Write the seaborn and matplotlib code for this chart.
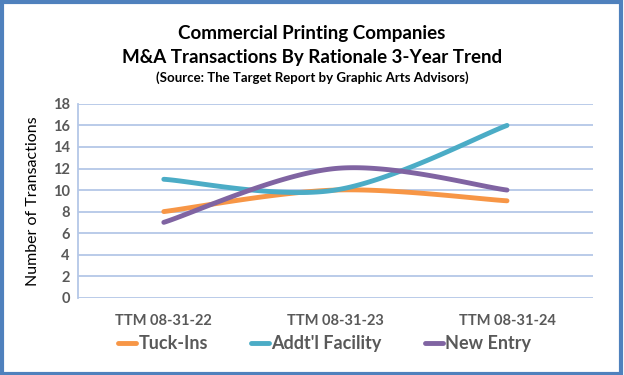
import numpy as np
import pandas as pd
import matplotlib
matplotlib.use("Agg")
import matplotlib.pyplot as plt
import seaborn as sns
from matplotlib.patches import Rectangle

categories = ["TTM 08-31-22", "TTM 08-31-23", "TTM 08-31-24"]
tuck_ins = [8, 10, 9]
addtl_facility = [11, 10, 16]
new_entry = [7, 12, 10]
series_names = ["Tuck-Ins", "Addt'l Facility", "New Entry"]
colors = ["#F79646", "#4BACC6", "#8064A2"]
y_ticks = list(range(0, 20, 2))

sns.set_theme(style="white")
plt.rcParams['font.family'] = ['Lato', 'DejaVu Sans']


def excel_smooth(ys, n=60):
    xs = np.arange(len(ys), dtype=float)
    pts = np.column_stack([xs, np.asarray(ys, dtype=float)])
    out = []
    for i in range(len(pts) - 1):
        p0 = pts[max(i - 1, 0)]
        p1 = pts[i]
        p2 = pts[i + 1]
        p3 = pts[min(i + 2, len(pts) - 1)]
        c1 = p1 + (p2 - p0) / 6.0
        c2 = p2 - (p3 - p1) / 6.0
        t = np.linspace(0, 1, n)[:, None]
        seg = ((1 - t) ** 3) * p1 + 3 * ((1 - t) ** 2) * t * c1 + 3 * (1 - t) * t ** 2 * c2 + t ** 3 * p2
        out.append(seg if i == 0 else seg[1:])
    return np.vstack(out)


frames = []
for name, vals in zip(series_names, [tuck_ins, addtl_facility, new_entry]):
    curve = excel_smooth(vals)
    frames.append(pd.DataFrame({"x": curve[:, 0], "y": curve[:, 1], "series": name}))
df = pd.concat(frames, ignore_index=True)

fig = plt.figure(figsize=(6.24, 3.75), dpi=100)
ax = fig.add_axes([0.125, 0.206, 0.825, 0.517])

sns.lineplot(data=df, x="x", y="y", hue="series", palette=colors, hue_order=series_names,
             sort=False, linewidth=3.5, ax=ax, legend=False, estimator=None)
for line in ax.get_lines():
    line.set_solid_capstyle("round")

ax.set_xlim(-0.5, len(categories) - 0.5)
ax.set_ylim(0, 18)
ax.set_yticks(y_ticks)
ax.set_xticks(range(len(categories)))
ax.set_xticklabels(categories, fontsize=10.5, fontweight="bold", color="#595959")
ax.set_yticklabels([str(v) for v in y_ticks], fontsize=10.5, fontweight="bold", color="#595959")
ax.tick_params(axis="both", length=0, pad=6)
ax.tick_params(axis="x", pad=12)
ax.grid(axis="y", color="#B4C7E7", linewidth=1.3)
ax.set_axisbelow(True)
for s in ["top", "right", "bottom"]:
    ax.spines[s].set_visible(False)
ax.spines["left"].set_color("#B4C7E7")
ax.spines["left"].set_linewidth(1.3)
ax.set_xlabel("")
ax.set_ylabel("Number of Transactions", fontsize=11.5, color="#000000", labelpad=9)

fig.text(0.5, 0.912, "Commercial Printing Companies", ha="center", va="center",
         fontsize=13.5, fontweight="bold", color="#000000")
fig.text(0.5, 0.848, "M&A Transactions By Rationale 3-Year Trend", ha="center", va="center",
         fontsize=13.5, fontweight="bold", color="#000000")
fig.text(0.5, 0.792, "(Source: The Target Report by Graphic Arts Advisors)", ha="center", va="center",
         fontsize=9.5, fontweight="bold", color="#000000")

handles = [plt.Line2D([0], [0], color=c, linewidth=3.5, solid_capstyle="round") for c in colors]
leg = fig.legend(handles, series_names, loc="center", bbox_to_anchor=(0.52, 0.083), ncol=3,
                 frameon=False, handlelength=1.0, handletextpad=0.1, columnspacing=2.4,
                 prop={"size": 13, "weight": "bold"})
for t in leg.get_texts():
    t.set_color("#595959")

fig.patches.append(Rectangle((0.0025, 0.004), 0.993, 0.99, transform=fig.transFigure,
                             fill=False, edgecolor="#4F81BD", linewidth=3, zorder=10))

fig.savefig("out.png", dpi=100, facecolor="white")
